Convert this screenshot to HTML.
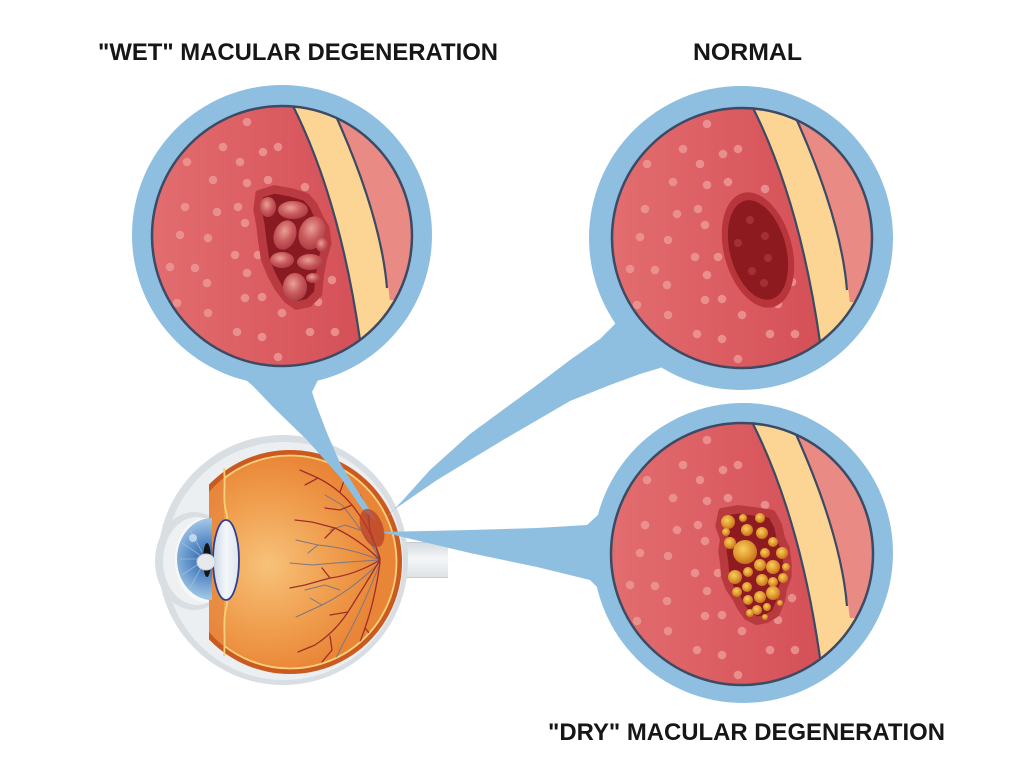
<!DOCTYPE html>
<html><head><meta charset="utf-8"><style>
html,body{margin:0;padding:0;background:#fff;}
svg{display:block;}
</style></head><body>
<svg width="1024" height="773" viewBox="0 0 1024 773" xmlns="http://www.w3.org/2000/svg">
<defs>
  <clipPath id="cc"><circle cx="0" cy="0" r="130"/></clipPath>
  <clipPath id="oc"><rect x="209" y="440" width="200" height="250"/></clipPath>
  <clipPath id="o107"><circle cx="290" cy="562" r="107"/></clipPath>
  <clipPath id="yc"><rect x="224" y="440" width="200" height="250"/></clipPath>
  <clipPath id="vc"><circle cx="290" cy="562" r="106"/></clipPath>
  <linearGradient id="rg" x1="0" y1="0" x2="1" y2="0">
    <stop offset="0" stop-color="#e36e70"/><stop offset="0.7" stop-color="#d6535a"/><stop offset="1" stop-color="#d04a52"/>
  </linearGradient>
  <radialGradient id="og" gradientUnits="userSpaceOnUse" cx="268" cy="565" r="112">
    <stop offset="0" stop-color="#f7c27a"/><stop offset="0.55" stop-color="#f0a050"/><stop offset="1" stop-color="#e98536"/>
  </radialGradient>
  <radialGradient id="wb" cx="0.42" cy="0.38" r="0.6">
    <stop offset="0" stop-color="#e8a096"/><stop offset="0.6" stop-color="#c85a5c"/><stop offset="1" stop-color="#b0404a"/>
  </radialGradient>
  <radialGradient id="db" cx="0.42" cy="0.38" r="0.6">
    <stop offset="0" stop-color="#f8cf62"/><stop offset="0.6" stop-color="#e29c30"/><stop offset="1" stop-color="#c9741f"/>
  </radialGradient>
  <radialGradient id="ig" gradientUnits="userSpaceOnUse" cx="208" cy="559" r="38">
    <stop offset="0" stop-color="#2f5f9e"/><stop offset="0.5" stop-color="#5b8fc8"/><stop offset="1" stop-color="#9cc2e4"/>
  </radialGradient>
  <linearGradient id="lg" x1="0" y1="0" x2="1" y2="0">
    <stop offset="0" stop-color="#c9d6e4"/><stop offset="0.5" stop-color="#f4f7fa"/><stop offset="1" stop-color="#dde5ed"/>
  </linearGradient>
  <linearGradient id="ng" x1="0" y1="0" x2="0" y2="1">
    <stop offset="0" stop-color="#d3d9de"/><stop offset="0.45" stop-color="#f5f6f7"/><stop offset="1" stop-color="#dde2e6"/>
  </linearGradient>
  <g id="base">
    <rect x="-140" y="-140" width="280" height="280" fill="url(#rg)"/>
    <path d="M11 -128 Q58 -36 78 102 L78 140 L160 140 L160 64 L108 64 Q99 -20 53 -122 L53 -140 L11 -140 Z" fill="#fcd594"/>
    <path d="M53 -122 Q99 -20 108 64 L160 64 L160 -160 L53 -160 Z" fill="#e98a85"/>
    <path d="M11 -130 Q58 -36 78 104" fill="none" stroke="#3c4a63" stroke-width="2.2"/>
    <path d="M53 -122 Q99 -20 105 52" fill="none" stroke="#3c4a63" stroke-width="2.2"/>
    <g fill="#ec9896" opacity="0.85">
      <circle cx="-35" cy="-114" r="4.3"/><circle cx="-59" cy="-89" r="4.3"/><circle cx="-19" cy="-84" r="4.3"/><circle cx="-4" cy="-89" r="4.3"/>
      <circle cx="-42" cy="-74" r="4.3"/><circle cx="-95" cy="-74" r="4.3"/><circle cx="-69" cy="-56" r="4.3"/><circle cx="-35" cy="-53" r="4.3"/>
      <circle cx="-14" cy="-56" r="4.3"/><circle cx="23" cy="-49" r="4.3"/><circle cx="-97" cy="-29" r="4.3"/><circle cx="-65" cy="-24" r="4.3"/>
      <circle cx="-44" cy="-29" r="4.3"/><circle cx="-37" cy="-13" r="4.3"/><circle cx="-102" cy="-1" r="4.3"/><circle cx="-74" cy="2" r="4.3"/>
      <circle cx="-47" cy="19" r="4.3"/><circle cx="-24" cy="19" r="4.3"/><circle cx="-112" cy="31" r="4.3"/><circle cx="-87" cy="32" r="4.3"/>
      <circle cx="-75" cy="47" r="4.3"/><circle cx="-35" cy="37" r="4.3"/><circle cx="50" cy="44" r="4.3"/><circle cx="-105" cy="67" r="4.3"/>
      <circle cx="-74" cy="77" r="4.3"/><circle cx="-37" cy="62" r="4.3"/><circle cx="-20" cy="61" r="4.3"/><circle cx="0" cy="77" r="4.3"/>
      <circle cx="36" cy="66" r="4.3"/><circle cx="-45" cy="96" r="4.3"/><circle cx="-20" cy="101" r="4.3"/><circle cx="28" cy="96" r="4.3"/>
      <circle cx="53" cy="96" r="4.3"/><circle cx="-4" cy="121" r="4.3"/>
    </g>
  </g>
</defs>

<rect width="1024" height="773" fill="#fff"/>

<!-- EYE -->
<rect x="398" y="542" width="50" height="36" fill="url(#ng)"/>
<line x1="398" y1="542.5" x2="448" y2="542.5" stroke="#c5ccd2" stroke-width="1"/>
<line x1="398" y1="577.5" x2="448" y2="577.5" stroke="#c5ccd2" stroke-width="1"/>
<circle cx="283" cy="560" r="125" fill="#d9dee3"/>
<circle cx="284" cy="561" r="119" fill="#eceff1"/>
<ellipse cx="194" cy="561" rx="39" ry="49" fill="#d9dee3"/>
<ellipse cx="197" cy="561" rx="34" ry="44" fill="#eef0f2"/>
<ellipse cx="205" cy="560" rx="30" ry="42" fill="#f7f8f9"/>
<g clip-path="url(#oc)">
  <circle cx="290" cy="562" r="112" fill="#cb5a20"/>
  <circle cx="290" cy="562" r="107" fill="url(#og)"/>
  <g clip-path="url(#o107)">
    <rect x="209" y="450" width="15" height="230" fill="#e5803a" opacity="0.6"/>
  </g>
</g>
<g clip-path="url(#yc)">
  <circle cx="290" cy="562" r="106.5" fill="none" stroke="#f9d07a" stroke-width="1.8"/>
</g>
<path d="M224 468 C226 488 222 500 227 515 L227 605 C222 620 226 636 224 656" fill="none" stroke="#f9d07a" stroke-width="1.8"/>
<!-- iris -->
<path d="M212 518 A35 41 0 0 0 212 600 Z" fill="url(#ig)"/>
<g stroke="#a9c8e6" stroke-width="0.8" opacity="0.7">
  <line x1="200" y1="559" x2="180" y2="559"/><line x1="200" y1="555" x2="182" y2="543"/><line x1="200" y1="563" x2="182" y2="575"/>
  <line x1="202" y1="552" x2="190" y2="530"/><line x1="202" y1="566" x2="190" y2="588"/>
</g>
<circle cx="193" cy="538" r="4" fill="#cfe2f3" opacity="0.8"/>
<ellipse cx="207" cy="560" rx="4" ry="17" fill="#151515"/>
<ellipse cx="226" cy="560" rx="13" ry="40" fill="url(#lg)" stroke="#2e3f8e" stroke-width="1.8"/>
<ellipse cx="206" cy="562" rx="9" ry="8" fill="#e6eaee" stroke="#c9d0d6" stroke-width="1"/>
<!-- vessels -->
<g clip-path="url(#vc)" fill="none" stroke-linecap="round">
  <g stroke="#7d7682" stroke-width="1">
    <path d="M380 560 Q350 548 318 545 L296 540"/><path d="M318 545 L308 553"/>
    <path d="M380 560 Q345 562 312 565 L290 563"/>
    <path d="M380 562 Q352 590 322 605 L296 617"/><path d="M322 605 L310 598"/>
    <path d="M380 558 Q362 530 342 505 L325 495"/>
    <path d="M380 563 Q362 610 345 640 L335 660"/>
    <path d="M380 560 Q372 548 368 520 L362 500 L350 490"/>
    <path d="M340 590 L325 585 L305 590"/><path d="M360 530 L345 525 L330 530"/>
  </g>
  <g stroke="#a02e2a" stroke-width="1.3">
    <path d="M380 560 Q372 530 352 505 Q338 488 318 478 L300 470"/><path d="M352 505 L340 510 L325 508"/>
    <path d="M340 492 L345 478 L340 468"/><path d="M318 478 L305 485"/>
    <path d="M380 560 Q360 540 335 528 L312 522 L295 520"/><path d="M335 528 L325 538"/>
    <path d="M380 560 Q365 585 348 612 Q335 632 315 645 L298 652"/><path d="M348 612 L330 615"/>
    <path d="M330 636 L332 650 L322 662"/>
    <path d="M380 560 Q355 575 330 578 L305 585 L290 588"/><path d="M330 578 L322 568"/>
    <path d="M380 562 Q375 600 365 628 L358 648"/><path d="M365 628 L375 640"/>
    <path d="M380 558 L370 530 L368 510 L360 495"/>
  </g>
</g>

<!-- BEAMS -->
<g fill="#8ebfe0">
  <polygon points="240,375 253,386 273,407 307,440 340,477 363,510 377,522 373,515 357,490 340,463 327,433 317,407 312,392 318,380 282,370"/>
  <polygon points="640,300 625,313 613,326 600,339 570,360 537,385 500,412 470,434 430,470 403,500 385,519 392,511 437,480 503,440 570,401 610,385 640,374 660,368 675,360 700,330"/>
  <polygon points="610,505 600,513 587,525 537,528 470,530 380,532 390,534 470,553 537,567 590,580 603,593 615,600"/>
</g>
<ellipse cx="372" cy="528" rx="11" ry="20" transform="rotate(-20 372 528)" fill="#b8402a" opacity="0.75"/>

<!-- WET CIRCLE -->
<circle cx="282" cy="235" r="150" fill="#8ebfe0"/>
<g transform="translate(282,236)">
  <g clip-path="url(#cc)">
    <use href="#base"/>
    <path d="M-25 -46 L-9 -51 L8 -48 L25 -43 L33 -34 L40 -19 L46 -9 L48 7 L43 24 L40 41 L38 61 L28 71 L15 74 L5 67 L-5 54 L-12 41 L-19 24 L-22 4 L-24 -13 L-27 -29 Z" transform="translate(10,12) scale(0.93) translate(-10,-12)" fill="#8a1a22" stroke="#b93a40" stroke-width="9" stroke-linejoin="round"/>
    <g fill="url(#wb)">
      <ellipse cx="-14" cy="-29" rx="8" ry="10"/>
      <ellipse cx="11" cy="-26" rx="15" ry="9"/>
      <ellipse cx="3" cy="-1" rx="11" ry="15" transform="rotate(20 3 -1)"/>
      <ellipse cx="30" cy="-3" rx="13" ry="17" transform="rotate(20 30 -3)"/>
      <ellipse cx="40" cy="9" rx="6" ry="7"/>
      <ellipse cx="0" cy="24" rx="12" ry="8"/>
      <ellipse cx="28" cy="26" rx="13" ry="8"/>
      <ellipse cx="31" cy="42" rx="7" ry="5"/>
      <ellipse cx="13" cy="51" rx="12" ry="14"/>
    </g>
  </g>
  <circle r="130" fill="none" stroke="#3c4a63" stroke-width="2.5"/>
</g>

<!-- NORMAL CIRCLE -->
<circle cx="741" cy="238" r="152" fill="#8ebfe0"/>
<g transform="translate(742,238)">
  <g clip-path="url(#cc)">
    <use href="#base"/>
    <ellipse cx="16" cy="12" rx="34" ry="59" transform="rotate(-15 16 12)" fill="#b8353c"/>
    <ellipse cx="16" cy="12" rx="28" ry="51" transform="rotate(-15 16 12)" fill="#8c1a1f"/>
    <g fill="#a33036"><circle cx="23" cy="-2" r="4"/><circle cx="-4" cy="5" r="4"/><circle cx="10" cy="33" r="4"/><circle cx="26" cy="20" r="4"/><circle cx="8" cy="-18" r="4"/><circle cx="22" cy="45" r="4"/></g>
  </g>
  <circle r="130" fill="none" stroke="#3c4a63" stroke-width="2.5"/>
</g>

<!-- DRY CIRCLE -->
<circle cx="743" cy="553" r="150" fill="#8ebfe0"/>
<g transform="translate(742,554)">
  <g clip-path="url(#cc)">
    <use href="#base"/>
    <path d="M-22 -46 L-5 -49 L18 -46 L31 -44 L38 -31 L41 -17 L46 -7 L48 9 L48 23 L43 36 L41 49 L35 63 L25 69 L15 71 L5 66 L-2 56 L-7 46 L-14 36 L-19 23 L-20 9 L-22 -4 L-20 -17 L-25 -31 Z" transform="translate(12,12) scale(0.93) translate(-12,-12)" fill="#8e1b22" stroke="#b83a3f" stroke-width="9" stroke-linejoin="round"/>
    <g fill="url(#db)">
      <circle cx="-14" cy="-32" r="7"/><circle cx="1" cy="-36" r="4"/><circle cx="18" cy="-36" r="5"/>
      <circle cx="5" cy="-24" r="6"/><circle cx="20" cy="-21" r="6"/><circle cx="-12" cy="-11" r="6"/>
      <circle cx="3" cy="-2" r="12"/><circle cx="31" cy="-12" r="5"/><circle cx="23" cy="-1" r="5"/>
      <circle cx="40" cy="-1" r="6"/><circle cx="44" cy="13" r="4"/><circle cx="18" cy="11" r="6"/>
      <circle cx="31" cy="13" r="7"/><circle cx="-7" cy="23" r="7"/><circle cx="6" cy="18" r="5"/>
      <circle cx="20" cy="26" r="6"/><circle cx="31" cy="28" r="5"/><circle cx="41" cy="24" r="5"/>
      <circle cx="5" cy="33" r="5"/><circle cx="-5" cy="38" r="5"/><circle cx="31" cy="39" r="7"/>
      <circle cx="18" cy="43" r="6"/><circle cx="6" cy="46" r="5"/><circle cx="15" cy="56" r="5"/>
      <circle cx="25" cy="53" r="4"/><circle cx="23" cy="63" r="3"/><circle cx="8" cy="59" r="4"/>
      <circle cx="38" cy="49" r="3"/><circle cx="-16" cy="-22" r="4"/>
    </g>
  </g>
  <circle r="131" fill="none" stroke="#3c4a63" stroke-width="2.5"/>
</g>

<!-- LABELS -->
<g font-family="'Liberation Sans', sans-serif" font-weight="bold" font-size="24" fill="#161616">
  <text x="98" y="60" textLength="400" lengthAdjust="spacingAndGlyphs">"WET" MACULAR DEGENERATION</text>
  <text x="693" y="60" textLength="109" lengthAdjust="spacingAndGlyphs">NORMAL</text>
  <text x="548" y="740" textLength="397" lengthAdjust="spacingAndGlyphs">"DRY" MACULAR DEGENERATION</text>
</g>
</svg>
</body></html>
